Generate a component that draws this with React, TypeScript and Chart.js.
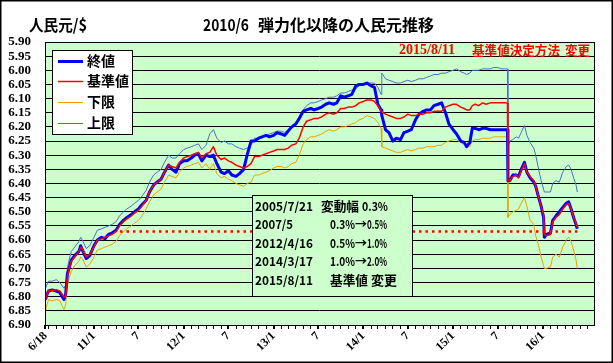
import React, { useEffect, useRef } from 'react';
import { Chart, registerables } from 'chart.js';

Chart.register(...registerables);

// ---- data ----
const dates = [
  '2010/06/18','2010/06/25','2010/07/01','2010/07/15','2010/08/01','2010/08/15','2010/09/01','2010/09/08','2010/09/15','2010/09/22',
  '2010/10/01','2010/10/15','2010/11/01','2010/11/08','2010/11/15','2010/12/01','2010/12/15',
  '2011/01/01','2011/01/15','2011/02/01','2011/02/15','2011/03/01','2011/03/15','2011/04/01','2011/04/15','2011/05/01','2011/05/15',
  '2011/06/01','2011/06/15','2011/07/01','2011/07/15','2011/08/01','2011/08/15','2011/09/01','2011/09/15','2011/10/01','2011/10/15',
  '2011/11/01','2011/11/15','2011/12/01','2011/12/15',
  '2012/01/01','2012/01/15','2012/02/01','2012/02/15','2012/03/01','2012/03/15','2012/04/01','2012/04/16','2012/05/01','2012/05/15',
  '2012/06/01','2012/06/15','2012/07/01','2012/07/15','2012/08/01','2012/08/15','2012/09/01','2012/09/15','2012/10/01','2012/10/15',
  '2012/11/01','2012/11/15','2012/12/01','2012/12/15',
  '2013/01/01','2013/01/15','2013/02/01','2013/02/15','2013/03/01','2013/03/15','2013/04/01','2013/04/15','2013/05/01','2013/05/15',
  '2013/06/01','2013/06/15','2013/07/01','2013/07/15','2013/08/01','2013/08/15','2013/09/01','2013/09/15','2013/10/01','2013/10/15',
  '2013/11/01','2013/11/15','2013/12/01','2013/12/15',
  '2014/01/01','2014/01/15','2014/02/01','2014/02/15','2014/03/01','2014/03/14','2014/03/17','2014/04/01','2014/04/15','2014/05/01',
  '2014/05/15','2014/06/01','2014/06/15','2014/07/01','2014/07/15','2014/08/01','2014/08/15','2014/09/01','2014/09/15','2014/10/01',
  '2014/10/15','2014/11/01','2014/11/15','2014/12/01','2014/12/15',
  '2015/01/01','2015/01/15','2015/02/01','2015/02/15','2015/02/25','2015/03/10','2015/03/20','2015/04/01','2015/04/15','2015/05/01',
  '2015/05/15','2015/06/01','2015/06/15','2015/07/01','2015/07/15','2015/08/01','2015/08/10','2015/08/12','2015/08/20','2015/09/01',
  '2015/09/15','2015/09/24','2015/10/05','2015/10/18','2015/10/28','2015/11/10','2015/11/25','2015/12/03','2015/12/15','2015/12/25',
  '2016/01/04','2016/01/07','2016/01/15','2016/02/01','2016/02/10','2016/02/23','2016/03/08','2016/03/22','2016/04/05','2016/04/15',
  '2016/04/25','2016/05/05','2016/05/15','2016/05/20',
];

// 終値
const closeVals = [
  6.81,6.79,6.78,6.776,6.78,6.785,6.81,6.79,6.72,6.70,
  6.67,6.655,6.64,6.62,6.635,6.665,6.655,
  6.62,6.60,6.59,6.595,6.58,6.575,6.565,6.545,6.53,6.52,
  6.51,6.50,6.49,6.475,6.46,6.43,6.405,6.395,6.385,6.36,
  6.335,6.35,6.36,6.33,
  6.32,6.32,6.31,6.30,6.295,6.32,6.30,6.305,6.30,6.33,
  6.36,6.365,6.355,6.37,6.375,6.365,6.35,6.30,6.25,6.25,
  6.24,6.235,6.23,6.235,
  6.23,6.22,6.225,6.23,6.215,6.20,6.19,6.17,6.145,6.14,
  6.135,6.14,6.135,6.13,6.12,6.115,6.12,6.115,6.09,6.095,
  6.09,6.085,6.055,6.05,
  6.05,6.045,6.055,6.06,6.12,6.14,6.16,6.21,6.22,6.25,
  6.24,6.245,6.22,6.215,6.21,6.175,6.155,6.145,6.14,6.14,
  6.125,6.12,6.115,6.15,6.19,
  6.21,6.225,6.25,6.255,6.27,6.255,6.205,6.205,6.21,6.205,
  6.205,6.21,6.21,6.21,6.21,6.21,6.21,6.39,6.39,6.37,
  6.37,6.375,6.35,6.325,6.36,6.38,6.395,6.41,6.45,6.48,
  6.52,6.59,6.58,6.575,6.53,6.515,6.50,6.485,6.47,6.465,
  6.49,6.52,6.545,6.56,
];

// 基準値
const baseVals = [
  6.81,6.79,6.78,6.777,6.775,6.78,6.80,6.80,6.73,6.70,
  6.675,6.66,6.64,6.625,6.63,6.66,6.65,
  6.625,6.60,6.595,6.59,6.585,6.58,6.57,6.55,6.535,6.525,
  6.515,6.505,6.495,6.48,6.46,6.43,6.405,6.395,6.385,6.36,
  6.335,6.34,6.345,6.325,
  6.31,6.305,6.30,6.295,6.29,6.31,6.295,6.29,6.27,6.30,
  6.315,6.31,6.32,6.325,6.335,6.34,6.345,6.34,6.33,6.305,
  6.305,6.30,6.295,6.29,
  6.285,6.28,6.28,6.28,6.275,6.265,6.26,6.24,6.20,6.18,
  6.175,6.17,6.17,6.165,6.155,6.15,6.155,6.15,6.135,6.135,
  6.13,6.13,6.125,6.115,
  6.11,6.105,6.105,6.11,6.125,6.145,6.145,6.155,6.16,6.165,
  6.17,6.17,6.165,6.155,6.16,6.16,6.155,6.155,6.15,6.15,
  6.145,6.145,6.145,6.13,6.125,
  6.12,6.12,6.13,6.135,6.14,6.14,6.125,6.12,6.125,6.115,
  6.12,6.115,6.115,6.115,6.115,6.115,6.116,6.39,6.39,6.375,
  6.37,6.38,6.355,6.33,6.36,6.375,6.39,6.41,6.45,6.48,
  6.51,6.58,6.585,6.58,6.535,6.52,6.51,6.49,6.475,6.47,
  6.49,6.52,6.54,6.555,
];

// 下限
const lowerVals = [
  6.85,6.825,6.81,6.815,6.81,6.815,6.845,6.83,6.76,6.735,
  6.71,6.69,6.675,6.66,6.665,6.695,6.685,
  6.66,6.635,6.63,6.625,6.62,6.615,6.605,6.585,6.57,6.56,
  6.55,6.54,6.53,6.515,6.49,6.465,6.44,6.43,6.42,6.395,
  6.37,6.375,6.38,6.36,
  6.345,6.34,6.335,6.33,6.325,6.345,6.33,6.35,6.33,6.365,
  6.38,6.375,6.385,6.39,6.40,6.405,6.41,6.40,6.395,6.37,
  6.37,6.365,6.36,6.355,
  6.345,6.34,6.34,6.345,6.34,6.33,6.325,6.30,6.26,6.245,
  6.235,6.235,6.23,6.225,6.215,6.21,6.215,6.21,6.20,6.20,
  6.195,6.19,6.185,6.175,
  6.17,6.16,6.165,6.17,6.185,6.205,6.27,6.275,6.28,6.285,
  6.29,6.29,6.285,6.28,6.285,6.28,6.275,6.275,6.27,6.27,
  6.27,6.265,6.265,6.255,6.25,
  6.245,6.245,6.255,6.26,6.27,6.27,6.25,6.245,6.245,6.24,
  6.24,6.24,6.235,6.235,6.235,6.235,6.235,6.52,6.51,6.50,
  6.495,6.49,6.47,6.45,6.48,6.53,6.545,6.585,6.62,6.66,
  6.69,6.70,6.70,6.695,6.66,6.65,6.66,6.625,6.60,6.59,
  6.605,6.635,6.67,6.70,
];

// 上限
const upperVals = [
  6.77,6.755,6.745,6.745,6.74,6.75,6.77,6.76,6.70,6.67,
  6.64,6.625,6.605,6.59,6.60,6.63,6.62,
  6.59,6.565,6.56,6.555,6.55,6.545,6.535,6.515,6.50,6.49,
  6.48,6.47,6.46,6.445,6.425,6.395,6.37,6.36,6.35,6.325,
  6.30,6.31,6.31,6.295,
  6.28,6.275,6.27,6.265,6.26,6.28,6.265,6.225,6.21,6.24,
  6.255,6.25,6.26,6.26,6.27,6.275,6.28,6.275,6.265,6.24,
  6.24,6.235,6.23,6.225,
  6.22,6.215,6.215,6.22,6.21,6.20,6.195,6.175,6.14,6.125,
  6.115,6.115,6.11,6.105,6.10,6.095,6.095,6.09,6.08,6.08,
  6.075,6.07,6.065,6.055,
  6.05,6.045,6.045,6.045,6.06,6.085,6.01,6.03,6.035,6.04,
  6.045,6.045,6.04,6.035,6.04,6.035,6.03,6.03,6.025,6.02,
  6.015,6.015,6.01,6.01,6.005,
  6.00,5.995,6.005,6.01,6.015,6.01,6.00,6.00,6.00,5.995,
  5.995,5.995,5.99,5.99,5.995,5.995,5.995,6.27,6.25,6.245,
  6.235,6.24,6.22,6.195,6.23,6.255,6.275,6.30,6.35,6.39,
  6.42,6.43,6.43,6.43,6.40,6.39,6.395,6.36,6.34,6.335,
  6.35,6.38,6.405,6.43,
];

// reference level (red dotted)
const refLevel = 6.57;
const refStart = '2011/04/17';
const refEnd = '2016/05/22';

// axis ticks
const yTickValues = [5.90,5.95,6.00,6.05,6.10,6.15,6.20,6.25,6.30,6.35,6.40,6.45,6.50,6.55,6.60,6.65,6.70,6.75,6.80,6.85,6.90];
const xMajorDates = ['2010/06/18','2011/01/01','2011/07/01','2012/01/01','2012/07/01','2013/01/01','2013/07/01','2014/01/01','2014/07/01','2015/01/01','2015/07/01','2016/01/01'];
const xMajorLabels = ['6/18','11/1','7','12/1','7','13/1','7','14/1','7','15/1','7','16/1'];
const xMin = '2010/06/16';
const xMax = '2016/07/27';

const legendItems = ['終値','基準値','下限','上限'];
const noteDates = ['2005/7/21','2007/5','2012/4/16','2014/3/17','2015/8/11'];
const noteFrom = ['', '0.3%', '0.5%', '1.0%', ''];
const noteTo = ['', '0.5%', '1.0%', '2.0%', ''];

// ---- helpers ----
const DAY = 86400000;
function dayNum(s: string): number {
  const [y, m, d] = s.split('/').map(Number);
  return (Date.UTC(y, m - 1, d) - Date.UTC(2010, 5, 16)) / DAY;
}
const toPts = (vals: number[]) => dates.map((d, i) => ({ x: dayNum(d), y: vals[i] }));

const majorNums = xMajorDates.map(dayNum);
const monthTicks: number[] = [dayNum(xMajorDates[0])];
for (let y = 2010; y <= 2016; y++) {
  for (let m = 1; m <= 12; m++) {
    if ((y === 2010 && m < 7) || (y === 2016 && m > 7)) continue;
    monthTicks.push(dayNum(`${y}/${String(m).padStart(2, '0')}/01`));
  }
}

const SERIF = '"Liberation Serif", "Times New Roman", serif';
const JP = '"Noto Sans CJK JP", "Noto Sans", sans-serif';

const COL_CLOSE = '#0000FF';
const COL_BASE = '#FF0000';
const COL_LOWER = '#E8A200';
const COL_UPPER = '#4472C4';
const PLOT_BG = '#CCFFCC';

function txt(ctx: CanvasRenderingContext2D, s: string, x: number, y: number, font: string, color: string, maxW?: number) {
  ctx.font = font;
  ctx.fillStyle = color;
  ctx.textAlign = 'left';
  ctx.textBaseline = 'middle';
  if (maxW) ctx.fillText(s, x, y, maxW); else ctx.fillText(s, x, y);
}

const deco = {
  id: 'deco',
  beforeDraw(chart: any) {
    const { ctx, chartArea: a } = chart;
    ctx.save();
    ctx.fillStyle = '#FFFFFF';
    ctx.fillRect(0, 0, chart.width, chart.height);
    ctx.fillStyle = PLOT_BG;
    ctx.fillRect(a.left, a.top, a.right - a.left, a.bottom - a.top);
    ctx.restore();
  },
  afterDraw(chart: any) {
    const { ctx, chartArea: a } = chart;
    ctx.save();
    // plot border
    ctx.strokeStyle = '#000';
    ctx.lineWidth = 1;
    ctx.strokeRect(Math.round(a.left) + 0.5, Math.round(a.top) + 0.5, Math.round(a.right - a.left), Math.round(a.bottom - a.top));
    // outer frame
    ctx.lineWidth = 1.5;
    ctx.strokeRect(0.75, 0.75, 611.5, 361.5);

    // titles
    txt(ctx, '人民元/$', 29, 25, `bold 16px ${JP}`, '#000', 58);
    txt(ctx, '2010/6', 203, 25, `bold 16px ${JP}`, '#000', 46);
    txt(ctx, '弾力化以降の人民元推移', 258, 25, `bold 16px ${JP}`, '#000', 180);

    // red note
    txt(ctx, '2015/8/11', 399, 50, `bold 14px ${SERIF}`, COL_BASE, 64);
    txt(ctx, '基準値決定方法', 472, 50, `bold 13px ${JP}`, COL_BASE, 88);
    txt(ctx, '変更', 565, 50, `bold 13px ${JP}`, COL_BASE, 25);

    // legend
    ctx.fillStyle = '#FFFFFF';
    ctx.fillRect(52.5, 50.5, 80, 84);
    ctx.strokeStyle = '#000';
    ctx.lineWidth = 1;
    ctx.strokeRect(52.5, 50.5, 80, 84);
    const lgColors = [COL_CLOSE, COL_BASE, COL_LOWER, COL_UPPER];
    const lgWidths = [3, 1.5, 1, 1];
    const lgY = [61, 81, 102, 123];
    legendItems.forEach((lab, i) => {
      ctx.strokeStyle = lgColors[i];
      ctx.lineWidth = lgWidths[i];
      ctx.beginPath();
      ctx.moveTo(58, lgY[i] + 0.5);
      ctx.lineTo(83, lgY[i] + 0.5);
      ctx.stroke();
      txt(ctx, lab, 87, lgY[i], `bold 14px ${JP}`, '#000');
    });

    // annotation box
    ctx.fillStyle = PLOT_BG;
    ctx.fillRect(252.5, 195.5, 160, 101);
    ctx.strokeStyle = '#000';
    ctx.lineWidth = 1;
    ctx.strokeRect(252.5, 195.5, 160, 101);
    const f = `bold 12px ${JP}`;
    noteDates.forEach((d, i) => {
      const y = 206.5 + i * 18.4;
      txt(ctx, d, 255, y, f, '#000', d.length > 6 ? 58 : 38);
      if (i === 0) {
        txt(ctx, '変動幅', 321, y, `bold 13px ${JP}`, '#000', 38);
        txt(ctx, '0.3%', 362, y, f, '#000', 26);
      } else if (i === 4) {
        txt(ctx, '基準値', 330, y, `bold 13px ${JP}`, '#000', 38);
        txt(ctx, '変更', 371, y, `bold 13px ${JP}`, '#000', 26);
      } else {
        txt(ctx, noteFrom[i], 330, y, f, '#000', 25);
        txt(ctx, '→', 355, y, `bold 12px ${JP}`, '#000', 12);
        txt(ctx, noteTo[i], 367, y, f, '#000', 20);
      }
    });
    ctx.restore();
  },
};

export default function App() {
  const ref = useRef<HTMLCanvasElement>(null);
  useEffect(() => {
    document.body.style.margin = '0';
    const canvas = ref.current;
    if (!canvas) return;
    const chart = new Chart(canvas, {
      type: 'line',
      data: {
        datasets: [
          { label: 'ref', data: [{ x: dayNum(refStart), y: refLevel }, { x: dayNum(refEnd), y: refLevel }], borderColor: COL_BASE, borderWidth: 2.5, borderDash: [2.5, 4], pointRadius: 0, order: -1 },
          { label: '基準値', data: toPts(baseVals), borderColor: COL_BASE, borderWidth: 1.5, pointRadius: 0, order: 0 },
          { label: '終値', data: toPts(closeVals), borderColor: COL_CLOSE, borderWidth: 3, pointRadius: 0, order: 1 },
          { label: '上限', data: toPts(upperVals), borderColor: COL_UPPER, borderWidth: 1, pointRadius: 0, order: 2 },
          { label: '下限', data: toPts(lowerVals), borderColor: COL_LOWER, borderWidth: 1, pointRadius: 0, order: 3 },
        ],
      },
      options: {
        animation: false,
        responsive: false,
        devicePixelRatio: 1,
        layout: { padding: { left: 0, top: 42, right: 19, bottom: 0 } },
        plugins: { legend: { display: false }, tooltip: { enabled: false }, title: { display: false } },
        elements: { line: { tension: 0, borderJoinStyle: 'round' } },
        scales: {
          x: {
            type: 'linear',
            min: dayNum(xMin),
            max: dayNum(xMax),
            afterBuildTicks: (s: any) => { s.ticks = monthTicks.map((v) => ({ value: v })); },
            afterFit: (s: any) => { s.height = 38; },
            ticks: {
              autoSkip: false,
              minRotation: 45,
              maxRotation: 45,
              padding: 0,
              color: '#000',
              font: { family: SERIF, size: 12, weight: 'bold' },
              callback: (v: any) => {
                const idx = majorNums.indexOf(Number(v));
                return idx >= 0 ? xMajorLabels[idx] : '';
              },
            },
            grid: {
              drawOnChartArea: false,
              drawTicks: true,
              tickLength: 4,
              color: '#000',
              lineWidth: (c: any) => (c.tick && majorNums.includes(c.tick.value) ? 2 : 1),
            },
            border: { display: false },
          },
          y: {
            type: 'linear',
            reverse: true,
            min: 5.9,
            max: 6.9,
            afterBuildTicks: (s: any) => { s.ticks = yTickValues.map((v) => ({ value: v })); },
            afterFit: (s: any) => { s.width = 45; },
            ticks: {
              autoSkip: false,
              padding: 14,
              color: '#000',
              font: { family: SERIF, size: 13, weight: 'bold' },
              callback: (v: any) => Number(v).toFixed(2),
            },
            grid: { color: '#000', lineWidth: 1, drawTicks: false },
            border: { display: false },
          },
        },
      },
      plugins: [deco],
    } as any);
    return () => chart.destroy();
  }, []);
  return <canvas ref={ref} width={613} height={363} style={{ display: 'block', width: 613, height: 363 }} />;
}
